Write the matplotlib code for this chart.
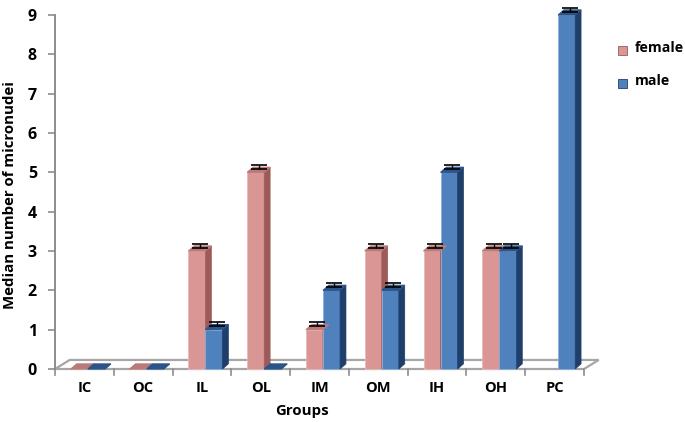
import numpy as np
import matplotlib
matplotlib.use("Agg")
import matplotlib.pyplot as plt
from matplotlib.patches import Polygon, Rectangle

groups = ["IC", "OC", "IL", "OL", "IM", "OM", "IH", "OH", "PC"]
female = [0, 0, 3, 5, 1, 3, 3, 3, np.nan]
male = [0, 0, 1, 0, 2, 2, 5, 3, 9]
err = 0.1
yticks = list(range(0, 10))

plt.rcParams['font.family'] = ['Open Sans', 'DejaVu Sans']

fig = plt.figure(figsize=(6.85, 4.22), dpi=100)
W, H = 685, 422
ax = fig.add_axes([55 / W, (H - 369) / H, 529 / W, 354 / H])
ax.set_xlim(-0.5, 8.5)
ax.set_ylim(0, 9)

# floor
fdx, fdy = 0.25, 0.23
floor = Polygon([(-0.5, 0), (8.5, 0), (8.5 + fdx, fdy), (-0.5 + fdx, fdy)],
                closed=True, facecolor="white", edgecolor="#a6a6a6", lw=1.6,
                clip_on=False, zorder=1)
ax.add_patch(floor)

w = 0.29
off = 0.06
ddx, ddy = 0.1, 0.13
styles = {
    "female": dict(front="#d99694", side="#9c5a58", top="#b97a78", edge="#e8b8b6"),
    "male": dict(front="#4f81bd", side="#1f3e6a", top="#2c5488", edge="#8fb0dc"),
}
x = np.arange(len(groups))
for vals, name, shift in [(female, "female", -w / 2), (male, "male", w / 2)]:
    st = styles[name]
    xs = x + off + shift
    v = np.array(vals, dtype=float)
    ok = ~np.isnan(v)
    ax.bar(xs[ok], v[ok], width=w, color=st["front"], edgecolor=st["edge"],
           lw=0.6, zorder=3, clip_on=False)
    for xi, vi in zip(xs[ok], v[ok]):
        l, r = xi - w / 2, xi + w / 2
        side = Polygon([(r, 0), (r + ddx, ddy), (r + ddx, vi + ddy), (r, vi)],
                       closed=True, facecolor=st["side"], edgecolor=st["side"],
                       lw=0.5, zorder=3, clip_on=False)
        top = Polygon([(l, vi), (r, vi), (r + ddx, vi + ddy), (l + ddx, vi + ddy)],
                      closed=True, facecolor=st["top"], edgecolor=st["top"],
                      lw=0.8, zorder=4, clip_on=False)
        ax.add_patch(side)
        ax.add_patch(top)
        if vi > 0:
            ax.errorbar(xi + ddx / 2, vi + ddy / 2 + 0.02, yerr=[[0], [err]],
                        fmt="none", ecolor="black", elinewidth=1.0,
                        capsize=6, capthick=1.2, zorder=5, clip_on=False)

for s in ["top", "right", "bottom"]:
    ax.spines[s].set_visible(False)
ax.spines["left"].set_color("#8c8c8c")
ax.spines["left"].set_linewidth(1.4)

ax.set_yticks(yticks)
ax.set_yticklabels([str(t) for t in yticks], fontsize=11.5, fontweight="bold")
ax.tick_params(axis="y", length=5, width=1.2, color="#8c8c8c", pad=8)

ax.set_xticks(x)
ax.set_xticklabels(groups, fontsize=10.5, fontweight="bold")
ax.tick_params(axis="x", length=0, pad=9)
for b in np.arange(-0.5, 9.0, 1.0):
    ax.plot([b, b], [0, -0.16], color="#8c8c8c", lw=1.2, clip_on=False, zorder=2)

fig.text(10 / W, 1 - 195 / H, "Median number of micronudei", rotation=90,
         ha="center", va="center", fontsize=10.8, fontweight="bold")
fig.text(302 / W, 1 - 411 / H, "Groups", ha="center", va="center",
         fontsize=10.8, fontweight="bold")

# legend
for label, st, yc in [("female", styles["female"], 50), ("male", styles["male"], 83)]:
    fig.patches.append(Rectangle((618 / W, 1 - (yc + 5) / H), 9 / W, 9 / H,
                                 transform=fig.transFigure, facecolor=st["front"],
                                 edgecolor=st["side"], lw=0.6))
    fig.text(635 / W, 1 - (yc - 2) / H, label, ha="left", va="center",
             fontsize=10.2, fontweight="bold")

fig.savefig("out.png", dpi=100)
